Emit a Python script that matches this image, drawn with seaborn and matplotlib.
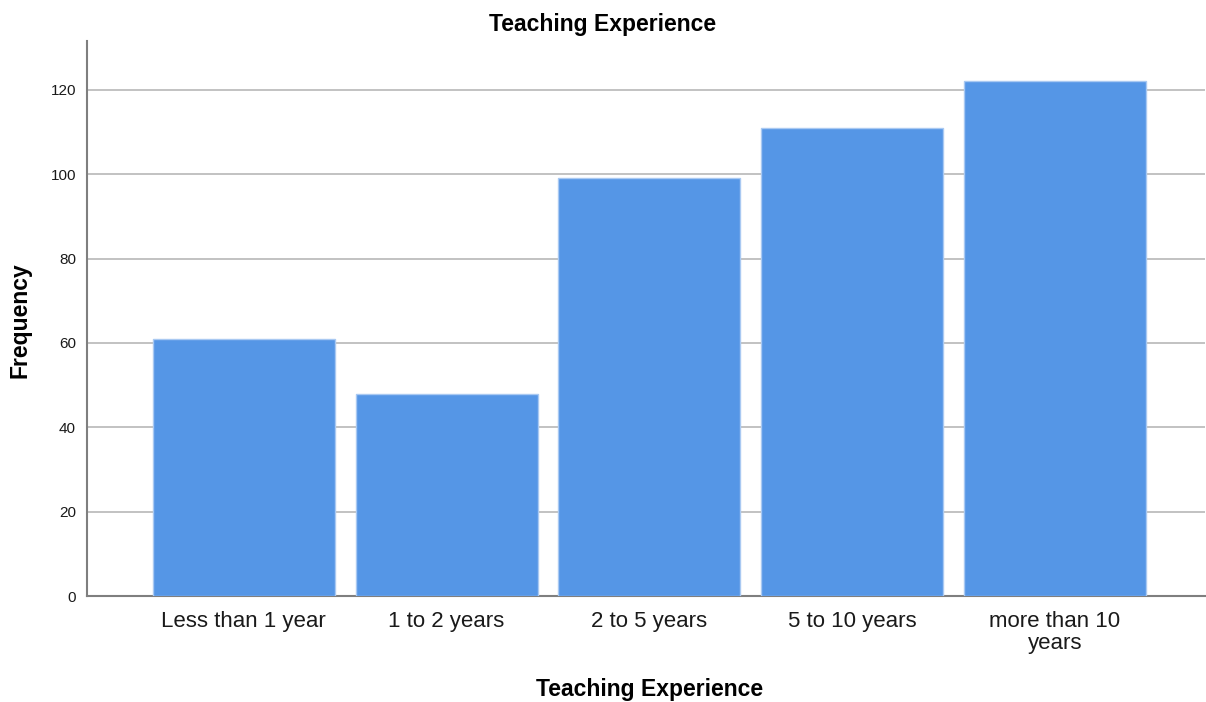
import matplotlib
matplotlib.use("Agg")
import matplotlib.pyplot as plt
import seaborn as sns
import pandas as pd

categories = ["Less than 1 year", "1 to 2 years", "2 to 5 years",
              "5 to 10 years", "more than 10\nyears"]
frequency = [61, 48, 99, 111, 122]
y_ticks = [0, 20, 40, 60, 80, 100, 120]

sns.set_style("white")
plt.rcParams['font.family'] = ['Liberation Sans', 'DejaVu Sans']

df = pd.DataFrame({"experience": categories, "freq": frequency})

fig = plt.figure(figsize=(12.06, 7.02), dpi=100)
ax = fig.add_axes([87 / 1206, 1 - 596 / 702, 1 - 87 / 1206 - 0.001, (596 - 41) / 702])

sns.barplot(data=df, x="experience", y="freq", color="#5596E6", saturation=1,
            width=0.897, edgecolor="#A9C9F2", linewidth=1, ax=ax, zorder=3)

ax.set_xlim(-0.773, 4.739)
ax.set_ylim(0, 131.6)
ax.set_yticks(y_ticks)
ax.yaxis.grid(True, color="#BDBDBD", linewidth=1.3, zorder=0)
ax.set_axisbelow(True)

for side in ["top", "right"]:
    ax.spines[side].set_visible(False)
for side in ["left", "bottom"]:
    ax.spines[side].set_color("#7F7F7F")
    ax.spines[side].set_linewidth(1.5)

ax.tick_params(axis="y", length=0, pad=8, labelsize=11, labelcolor="#1a1a1a")
ax.tick_params(axis="x", length=0, pad=11, labelsize=16, labelcolor="#1a1a1a")
for lbl in ax.get_xticklabels():
    lbl.set_linespacing(1.05)

ax.set_xlabel("Teaching Experience", fontsize=16.5, fontweight="bold", color="black")
ax.xaxis.set_label_coords(0.5036, -0.148)
ax.set_ylabel("Frequency", fontsize=16.5, fontweight="bold", color="black")
ax.yaxis.set_label_coords(-0.05, 0.497)
fig.suptitle("Teaching Experience", fontsize=16.5, fontweight="bold", y=0.982, color="black")

fig.savefig("out.png", dpi=100, facecolor="white")
